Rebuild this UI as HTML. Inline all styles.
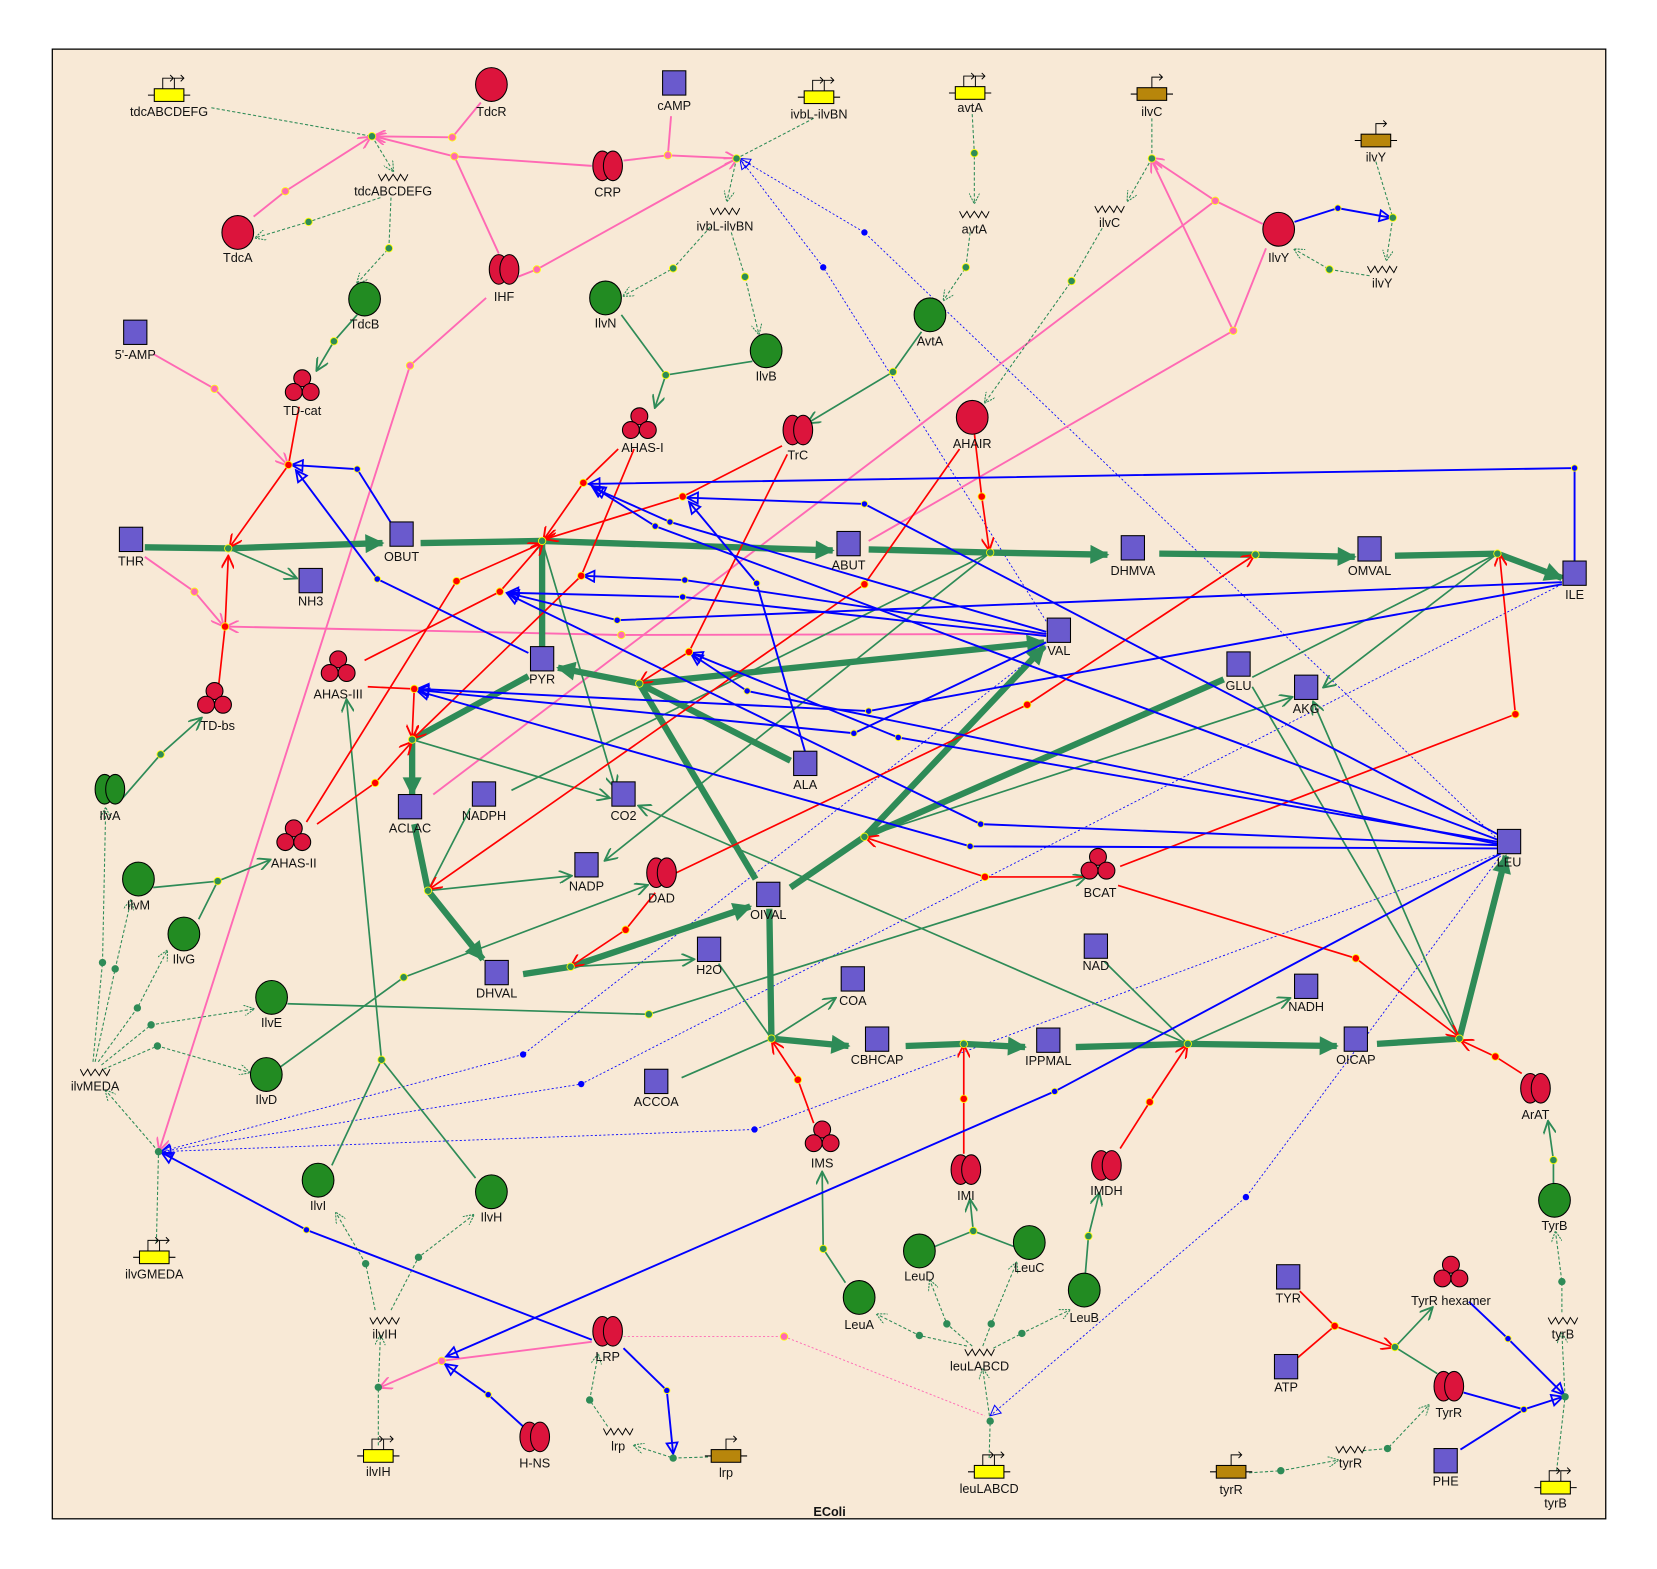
<!DOCTYPE html>
<html><head><meta charset="utf-8"><style>
html,body{margin:0;padding:0;background:#fff;}
svg{display:block}
text{font-family:"Liberation Sans",Arial,sans-serif;font-size:12px;fill:#111;text-anchor:middle}
.sq{fill:#6a5acd;stroke:#000;stroke-width:1}
.gc{fill:#228b22;stroke:#000;stroke-width:1}
.rc{fill:#dc143c;stroke:#000;stroke-width:1}
.F{stroke:#2e8b57;stroke-width:6;fill:none}
.g{stroke:#2e8b57;stroke-width:1.6;fill:none}
.gd{stroke:#2e8b57;stroke-width:1;stroke-dasharray:3,2;fill:none}
.r{stroke:#ff0000;stroke-width:1.6;fill:none}
.b{stroke:#0000ff;stroke-width:1.8;fill:none}
.bd{stroke:#0000ff;stroke-width:0.8;stroke-dasharray:2,2;fill:none}
.p{stroke:#ff69b4;stroke-width:1.8;fill:none}
.pd{stroke:#ff69b4;stroke-width:0.9;stroke-dasharray:2,2;fill:none}
</style></head><body>
<svg width="1657" height="1569" viewBox="0 0 1568 1485" preserveAspectRatio="none" xmlns="http://www.w3.org/2000/svg">
<defs>
<marker id="mF" viewBox="0 0 10 10" refX="9" refY="5" markerUnits="userSpaceOnUse" markerWidth="20" markerHeight="18" orient="auto"><path d="M0,0 L10,5 L0,10 z" fill="#2e8b57"/></marker>
<marker id="mg" viewBox="0 0 10 10" refX="9" refY="5" markerUnits="userSpaceOnUse" markerWidth="14" markerHeight="12" orient="auto"><path d="M0,0 L10,5 L0,10" fill="none" stroke="#2e8b57" stroke-width="1.5"/></marker>
<marker id="mgd" viewBox="0 0 10 10" refX="9" refY="5" markerUnits="userSpaceOnUse" markerWidth="12" markerHeight="10" orient="auto"><path d="M0,0 L10,5 L0,10" fill="none" stroke="#2e8b57" stroke-width="1" stroke-dasharray="2,1"/></marker>
<marker id="mr" viewBox="0 0 10 10" refX="9" refY="5" markerUnits="userSpaceOnUse" markerWidth="14" markerHeight="12" orient="auto"><path d="M0,0 L10,5 L0,10" fill="none" stroke="#ff0000" stroke-width="1.5"/></marker>
<marker id="mp" viewBox="0 0 10 10" refX="9" refY="5" markerUnits="userSpaceOnUse" markerWidth="14" markerHeight="12" orient="auto"><path d="M0,0 L10,5 L0,10" fill="none" stroke="#ff69b4" stroke-width="1.5"/></marker>
<marker id="mb" viewBox="0 0 10 10" refX="9" refY="5" markerUnits="userSpaceOnUse" markerWidth="16" markerHeight="13" orient="auto"><path d="M1,1 L9,5 L1,9 z" fill="none" stroke="#0000ff" stroke-width="1.3"/></marker>
<marker id="mbd" viewBox="0 0 10 10" refX="9" refY="5" markerUnits="userSpaceOnUse" markerWidth="14" markerHeight="12" orient="auto"><path d="M1,1 L9,5 L1,9 z" fill="none" stroke="#0000ff" stroke-width="0.8"/></marker>
<g id="dimR"><ellipse cx="-5" cy="0" rx="9" ry="14" class="rc"/><ellipse cx="5" cy="0" rx="9" ry="14" class="rc"/></g>
<g id="dimG"><ellipse cx="-5" cy="0" rx="9" ry="14" class="gc"/><ellipse cx="5" cy="0" rx="9" ry="14" class="gc"/></g>
<g id="tri"><circle cx="0" cy="-9" r="8" class="rc"/><circle cx="-8" cy="4" r="8" class="rc"/><circle cx="8" cy="4" r="8" class="rc"/></g>
<g id="mrna"><path d="M-14,-3 L-11,3 L-7,-3 L-4,3 L0,-3 L4,3 L7,-3 L11,3 L14,-3" fill="none" stroke="#000" stroke-width="0.9"/></g>
<g id="geneY"><line x1="-20" y1="0" x2="20" y2="0" stroke="#000"/><rect x="-14" y="-6" width="28" height="12" fill="#ffff00" stroke="#000"/><path d="M-6,-6 V-16 H4 M1,-19 L4,-16 L1,-13 M5,-6 V-16 H14 M11,-19 L14,-16 L11,-13" fill="none" stroke="#000" stroke-width="0.9"/></g>
<g id="geneB"><line x1="-20" y1="0" x2="20" y2="0" stroke="#000"/><rect x="-14" y="-6" width="28" height="12" fill="#b8860b" stroke="#000"/><path d="M0,-6 V-16 H10 M7,-19 L10,-16 L7,-13" fill="none" stroke="#000" stroke-width="0.9"/></g>
</defs>
<rect x="0" y="0" width="1568" height="1485" fill="#fff"/>
<rect x="49.5" y="46.5" width="1470" height="1391" fill="#f8e9d6" stroke="#000" stroke-width="1.2"/>

<g class="bd">
<polyline points="1418,795 818,220 700,150" marker-end="url(#mbd)"/>
<polyline points="990,588 779,253 700,150" marker-end="url(#mbd)"/>
<polyline points="990,612 495,998 152,1090" marker-end="url(#mbd)"/>
<polyline points="1478,553 550,1026 152,1090" marker-end="url(#mbd)"/>
<polyline points="1418,808 714,1069 152,1090" marker-end="url(#mbd)"/>
<polyline points="1420,810 1179,1133 937,1340" marker-end="url(#mbd)"/>
</g>
<polyline class="pd" points="590,1265 742,1265 932,1340"/>

<g class="p">
<polyline points="455,97 428,130 354,129" marker-end="url(#mp)"/>
<polyline points="560,157 430,148 354,129" marker-end="url(#mp)"/>
<line x1="472" y1="240" x2="430" y2="148"/>
<polyline points="240,205 270,181 350,130" marker-end="url(#mp)"/>
<polyline points="145,335 203,368 272,440" marker-end="url(#mp)"/>
<polyline points="137,527 184,560 211,592" marker-end="url(#mp)"/>
<polyline points="990,600 588,601 215,593" marker-end="url(#mp)"/>
<polyline points="635,110 632,147 697,150" marker-end="url(#mp)"/>
<line x1="590" y1="152" x2="632" y2="147"/>
<polyline points="490,262 508,255 697,150" marker-end="url(#mp)"/>
<polyline points="460,282 388,346 151,1088" marker-end="url(#mp)"/>
<polyline points="1195,212 1150,190 1090,150" marker-end="url(#mp)"/>
<polyline points="1198,235 1167,313 1090,152" marker-end="url(#mp)"/>
<line x1="1150" y1="190" x2="410" y2="752"/>
<line x1="1167" y1="313" x2="822" y2="512"/>
<polyline points="560,1270 418,1288 360,1313" marker-end="url(#mp)"/>
</g>

<g class="gd">
<line x1="200" y1="102" x2="352" y2="129"/>
<polyline points="352,129 372,162" marker-end="url(#mgd)"/>
<polyline points="370,187 368,235 338,268" marker-end="url(#mgd)"/>
<polyline points="360,187 292,210 242,225" marker-end="url(#mgd)"/>
<line x1="770" y1="112" x2="697" y2="150"/>
<polyline points="697,150 688,190" marker-end="url(#mgd)"/>
<polyline points="672,215 637,254 590,280" marker-end="url(#mgd)"/>
<polyline points="692,220 705,262 718,316" marker-end="url(#mgd)"/>
<polyline points="920,108 922,145 922,192" marker-end="url(#mgd)"/>
<polyline points="918,220 914,253 893,284" marker-end="url(#mgd)"/>
<line x1="1090" y1="112" x2="1090" y2="150"/>
<polyline points="1090,150 1067,190" marker-end="url(#mgd)"/>
<polyline points="1043,216 1014,266 932,381" marker-end="url(#mgd)"/>
<line x1="1302" y1="153" x2="1318" y2="206"/>
<polyline points="1318,206 1312,246" marker-end="url(#mgd)"/>
<polyline points="1296,261 1258,255 1225,236" marker-end="url(#mgd)"/>
<line x1="148" y1="1176" x2="150" y2="1090"/>
<polyline points="150,1090 100,1032" marker-end="url(#mgd)"/>
<polyline points="88,1005 97,911 100,765" marker-end="url(#mgd)"/>
<polyline points="90,1005 109,917 124,852" marker-end="url(#mgd)"/>
<polyline points="93,1005 130,954 158,900" marker-end="url(#mgd)"/>
<polyline points="96,1008 143,970 240,955" marker-end="url(#mgd)"/>
<polyline points="98,1012 149,990 236,1015" marker-end="url(#mgd)"/>
<polyline points="358,1368 358,1313 360,1264" marker-end="url(#mgd)"/>
<polyline points="355,1240 346,1196 318,1148" marker-end="url(#mgd)"/>
<polyline points="370,1240 396,1190 448,1150" marker-end="url(#mgd)"/>
<polyline points="670,1379 637,1380 600,1368" marker-end="url(#mgd)"/>
<polyline points="575,1350 558,1325 566,1282" marker-end="url(#mgd)"/>
<polyline points="936,1380 937,1345 930,1296" marker-end="url(#mgd)"/>
<polyline points="915,1274 870,1264 830,1244" marker-end="url(#mgd)"/>
<polyline points="920,1274 896,1253 880,1212" marker-end="url(#mgd)"/>
<polyline points="930,1274 938,1253 962,1195" marker-end="url(#mgd)"/>
<polyline points="940,1276 967,1262 1012,1240" marker-end="url(#mgd)"/>
<polyline points="1182,1394 1212,1392 1266,1382" marker-end="url(#mgd)"/>
<polyline points="1290,1373 1313,1371 1352,1330" marker-end="url(#mgd)"/>
<line x1="1473" y1="1392" x2="1481" y2="1322"/>
<polyline points="1481,1322 1478,1262" marker-end="url(#mgd)"/>
<polyline points="1478,1242 1478,1213 1472,1166" marker-end="url(#mgd)"/>
</g>

<g class="g">
<polyline points="338,298 316,323 300,350" marker-end="url(#mg)"/>
<line x1="588" y1="298" x2="630" y2="355"/><line x1="712" y1="342" x2="630" y2="355"/>
<polyline points="630,355 620,385" marker-end="url(#mg)"/>
<polyline points="872,314 845,352 765,400" marker-end="url(#mg)"/>
<polyline points="112,760 152,714 190,680" marker-end="url(#mg)"/>
<polyline points="145,840 206,834 255,814" marker-end="url(#mg)"/>
<line x1="188" y1="870" x2="206" y2="834"/>
<line x1="314" y1="1103" x2="361" y2="1003"/><line x1="450" y1="1115" x2="361" y2="1003"/>
<polyline points="361,1003 328,663" marker-end="url(#mg)"/>
<polyline points="272,950 614,960 1027,830" marker-end="url(#mg)"/>
<polyline points="265,1010 382,925 612,838" marker-end="url(#mg)"/>
<polyline points="800,1214 779,1182 778,1110" marker-end="url(#mg)"/>
<line x1="884" y1="1180" x2="921" y2="1165"/><line x1="960" y1="1180" x2="921" y2="1165"/>
<polyline points="921,1165 918,1136" marker-end="url(#mg)"/>
<polyline points="1027,1206 1030,1170 1040,1130" marker-end="url(#mg)"/>
<polyline points="1470,1120 1470,1098 1465,1062" marker-end="url(#mg)"/>
<polyline points="1320,1275 1355,1238" marker-end="url(#mg)"/>
<line x1="1320" y1="1275" x2="1360" y2="1300"/>
<polyline points="513,512 582,745" marker-end="url(#mg)"/>
<line x1="937" y1="523" x2="484" y2="748"/>
<polyline points="937,523 573,814" marker-end="url(#mg)"/>
<line x1="1417" y1="524" x2="1185" y2="641"/>
<polyline points="1417,524 1253,650" marker-end="url(#mg)"/>
<polyline points="818,792 1222,660" marker-end="url(#mg)"/>
<line x1="1185" y1="650" x2="1381" y2="983"/>
<polyline points="1381,983 1243,665" marker-end="url(#mg)"/>
<polyline points="1124,988 605,763" marker-end="url(#mg)"/>
<polyline points="390,700 576,755" marker-end="url(#mg)"/>
<line x1="445" y1="765" x2="405" y2="843"/>
<polyline points="405,843 540,829" marker-end="url(#mg)"/>
<polyline points="540,915 656,908" marker-end="url(#mg)"/>
<line x1="680" y1="912" x2="730" y2="983"/>
<line x1="645" y1="1020" x2="730" y2="983"/>
<polyline points="730,983 790,945" marker-end="url(#mg)"/>
<line x1="1045" y1="910" x2="1124" y2="988"/>
<polyline points="1124,988 1220,945" marker-end="url(#mg)"/>
</g>
<polyline points="216,519 280,547" class="g" marker-end="url(#mg)"/>

<g class="F">
<polyline points="137,518 216,519 362,514" marker-end="url(#mF)"/>
<polyline points="398,514 513,512 788,521" marker-end="url(#mF)"/>
<polyline points="822,520 937,523 1048,525" marker-end="url(#mF)"/>
<polyline points="1097,524 1188,525 1282,527" marker-end="url(#mF)"/>
<polyline points="1320,526 1417,524 1478,547" marker-end="url(#mF)"/>
<line x1="513" y1="512" x2="513" y2="612"/>
<polyline points="605,647 528,632" marker-end="url(#mF)"/>
<polyline points="605,647 988,608" marker-end="url(#mF)"/>
<line x1="748" y1="720" x2="605" y2="647"/>
<line x1="715" y1="832" x2="605" y2="647"/>
<polyline points="500,640 390,700 390,752" marker-end="url(#mF)"/>
<polyline points="392,780 405,843 457,908" marker-end="url(#mF)"/>
<polyline points="495,922 540,915 710,858" marker-end="url(#mF)"/>
<polyline points="728,860 730,983 803,990" marker-end="url(#mF)"/>
<polyline points="857,990 912,988 970,991" marker-end="url(#mF)"/>
<polyline points="1018,991 1124,988 1265,990" marker-end="url(#mF)"/>
<polyline points="1303,988 1381,983 1425,810" marker-end="url(#mF)"/>
<polyline points="748,840 818,792 988,612" marker-end="url(#mF)"/>
<line x1="1158" y1="643" x2="818" y2="792"/>
</g>

<g class="r">
<polyline points="283,385 273,440 218,517" marker-end="url(#mr)"/>
<polyline points="207,648 213,593 216,527" marker-end="url(#mr)"/>
<polyline points="585,425 552,457 515,510" marker-end="url(#mr)"/>
<polyline points="600,425 550,545 392,698" marker-end="url(#mr)"/>
<polyline points="740,422 646,470 517,510" marker-end="url(#mr)"/>
<polyline points="745,430 652,617 606,646" marker-end="url(#mr)"/>
<polyline points="345,625 473,560 513,514" marker-end="url(#mr)"/>
<polyline points="348,650 392,652 390,697" marker-end="url(#mr)"/>
<polyline points="290,778 432,550 511,515" marker-end="url(#mr)"/>
<polyline points="300,780 355,741 389,703" marker-end="url(#mr)"/>
<polyline points="922,410 929,470 936,520" marker-end="url(#mr)"/>
<polyline points="908,425 818,553 407,841" marker-end="url(#mr)"/>
<polyline points="640,826 972,667 1186,526" marker-end="url(#mr)"/>
<polyline points="620,845 592,880 541,914" marker-end="url(#mr)"/>
<polyline points="1025,830 932,830 820,793" marker-end="url(#mr)"/>
<polyline points="1060,820 1434,676 1419,525" marker-end="url(#mr)"/>
<polyline points="1058,838 1283,907 1380,981" marker-end="url(#mr)"/>
<polyline points="770,1063 755,1022 731,986" marker-end="url(#mr)"/>
<polyline points="912,1092 912,1040 912,990" marker-end="url(#mr)"/>
<polyline points="1060,1087 1088,1043 1123,990" marker-end="url(#mr)"/>
<polyline points="1440,1016 1415,1000 1383,985" marker-end="url(#mr)"/>
<polyline points="1230,1222 1263,1255 1318,1275" marker-end="url(#mr)"/>
<line x1="1228" y1="1285" x2="1263" y2="1255"/>
</g>

<g class="b">
<polyline points="372,498 338,444 276,440" marker-end="url(#mb)"/>
<polyline points="500,618 357,548 280,445" marker-end="url(#mb)"/>
<polyline points="1490,532 1490,443 557,458" marker-end="url(#mb)"/>
<polyline points="1418,795 620,498 560,460" marker-end="url(#mb)"/>
<polyline points="990,598 634,494 562,462" marker-end="url(#mb)"/>
<polyline points="1418,790 818,477 650,471" marker-end="url(#mb)"/>
<polyline points="762,712 716,552 652,475" marker-end="url(#mb)"/>
<polyline points="990,600 648,549 552,545" marker-end="url(#mb)"/>
<polyline points="1478,551 584,587 480,561" marker-end="url(#mb)"/>
<polyline points="990,602 646,565 480,561" marker-end="url(#mb)"/>
<polyline points="1478,553 822,673 395,652" marker-end="url(#mb)"/>
<polyline points="990,608 808,694 395,653" marker-end="url(#mb)"/>
<polyline points="1418,797 850,698 654,618" marker-end="url(#mb)"/>
<polyline points="1418,799 707,654 654,619" marker-end="url(#mb)"/>
<polyline points="1418,800 928,780 480,562" marker-end="url(#mb)"/>
<polyline points="1418,803 918,801 395,654" marker-end="url(#mb)"/>
<polyline points="1420,808 998,1033 422,1284" marker-end="url(#mb)"/>
<polyline points="590,1276 631,1316 637,1376" marker-end="url(#mb)"/>
<polyline points="495,1350 462,1320 421,1291" marker-end="url(#mb)"/>
<polyline points="560,1268 290,1164 153,1091" marker-end="url(#mb)"/>
<polyline points="1225,210 1266,197 1316,206" marker-end="url(#mb)"/>
<polyline points="1390,1232 1427,1267 1480,1320" marker-end="url(#mb)"/>
<polyline points="1385,1318 1442,1334 1479,1322" marker-end="url(#mb)"/>
<line x1="1382" y1="1372" x2="1442" y2="1334"/>
</g>

<g stroke="#ffff00" stroke-width="0.8">
<g fill="#2e8b57">
<circle cx="352" cy="129" r="3.5"/><circle cx="697" cy="150" r="3.5"/><circle cx="1090" cy="150" r="3.5"/><circle cx="1318" cy="206" r="3.5"/>
<circle cx="292" cy="210" r="3.5"/><circle cx="368" cy="235" r="3.5"/><circle cx="637" cy="254" r="3.5"/><circle cx="705" cy="262" r="3.5"/>
<circle cx="922" cy="145" r="3.5"/><circle cx="914" cy="253" r="3.5"/><circle cx="1014" cy="266" r="3.5"/><circle cx="1258" cy="255" r="3.5"/>
<circle cx="316" cy="323" r="3.5"/><circle cx="630" cy="355" r="3.5"/><circle cx="845" cy="352" r="3.5"/>
<circle cx="216" cy="519" r="3.5"/><circle cx="513" cy="512" r="3.5"/><circle cx="937" cy="523" r="3.5"/><circle cx="1188" cy="525" r="3.5"/><circle cx="1417" cy="524" r="3.5"/>
<circle cx="605" cy="647" r="3.5"/><circle cx="390" cy="700" r="3.5"/><circle cx="405" cy="843" r="3.5"/><circle cx="540" cy="915" r="3.5"/><circle cx="818" cy="792" r="3.5"/>
<circle cx="730" cy="983" r="3.5"/><circle cx="912" cy="988" r="3.5"/><circle cx="1124" cy="988" r="3.5"/><circle cx="1381" cy="983" r="3.5"/>
<circle cx="152" cy="714" r="3.5"/><circle cx="206" cy="834" r="3.5"/><circle cx="361" cy="1003" r="3.5"/><circle cx="614" cy="960" r="3.5"/><circle cx="382" cy="925" r="3.5"/>
<circle cx="779" cy="1182" r="3.5"/><circle cx="921" cy="1165" r="3.5"/><circle cx="1030" cy="1170" r="3.5"/><circle cx="1470" cy="1098" r="3.5"/><circle cx="1320" cy="1275" r="3.5"/>
<circle cx="97" cy="911" r="3.5" stroke="none"/><circle cx="109" cy="917" r="3.5" stroke="none"/><circle cx="130" cy="954" r="3.5" stroke="none"/><circle cx="143" cy="970" r="3.5" stroke="none"/><circle cx="149" cy="990" r="3.5" stroke="none"/><circle cx="150" cy="1090" r="3.5" stroke="none"/>
<circle cx="358" cy="1313" r="3.5" stroke="none"/><circle cx="346" cy="1196" r="3.5" stroke="none"/><circle cx="396" cy="1190" r="3.5" stroke="none"/><circle cx="637" cy="1380" r="3.5" stroke="none"/><circle cx="558" cy="1325" r="3.5" stroke="none"/>
<circle cx="937" cy="1345" r="3.5" stroke="none"/><circle cx="870" cy="1264" r="3.5" stroke="none"/><circle cx="896" cy="1253" r="3.5" stroke="none"/><circle cx="938" cy="1253" r="3.5" stroke="none"/><circle cx="967" cy="1262" r="3.5" stroke="none"/>
<circle cx="1212" cy="1392" r="3.5" stroke="none"/><circle cx="1313" cy="1371" r="3.5" stroke="none"/><circle cx="1481" cy="1322" r="3.5" stroke="none"/><circle cx="1478" cy="1213" r="3.5" stroke="none"/>
</g>
<g fill="#ff0000">
<circle cx="273" cy="440" r="3.5"/><circle cx="213" cy="593" r="3.5"/><circle cx="552" cy="457" r="3.5"/><circle cx="550" cy="545" r="3.5"/><circle cx="646" cy="470" r="3.5"/><circle cx="652" cy="617" r="3.5"/>
<circle cx="473" cy="560" r="3.5"/><circle cx="392" cy="652" r="3.5"/><circle cx="432" cy="550" r="3.5"/><circle cx="355" cy="741" r="3.5"/><circle cx="929" cy="470" r="3.5"/><circle cx="818" cy="553" r="3.5"/>
<circle cx="972" cy="667" r="3.5"/><circle cx="592" cy="880" r="3.5"/><circle cx="932" cy="830" r="3.5"/><circle cx="1434" cy="676" r="3.5"/><circle cx="1283" cy="907" r="3.5"/>
<circle cx="755" cy="1022" r="3.5"/><circle cx="912" cy="1040" r="3.5"/><circle cx="1088" cy="1043" r="3.5"/><circle cx="1415" cy="1000" r="3.5"/><circle cx="1263" cy="1255" r="3.5"/>
</g>
<g fill="#ff69b4">
<circle cx="428" cy="130" r="3.5"/><circle cx="430" cy="148" r="3.5"/><circle cx="270" cy="181" r="3.5"/><circle cx="203" cy="368" r="3.5"/><circle cx="184" cy="560" r="3.5"/><circle cx="588" cy="601" r="3.5"/>
<circle cx="632" cy="147" r="3.5"/><circle cx="508" cy="255" r="3.5"/><circle cx="388" cy="346" r="3.5"/><circle cx="1150" cy="190" r="3.5"/><circle cx="1167" cy="313" r="3.5"/><circle cx="418" cy="1288" r="3.5"/><circle cx="742" cy="1265" r="3.5"/>
</g>
<g fill="#0000ff">
<circle cx="338" cy="444" r="3"/><circle cx="357" cy="548" r="3"/><circle cx="1490" cy="443" r="3"/><circle cx="620" cy="498" r="3"/><circle cx="634" cy="494" r="3"/><circle cx="818" cy="477" r="3"/><circle cx="716" cy="552" r="3"/>
<circle cx="648" cy="549" r="3"/><circle cx="584" cy="587" r="3"/><circle cx="646" cy="565" r="3"/><circle cx="822" cy="673" r="3"/><circle cx="808" cy="694" r="3"/><circle cx="850" cy="698" r="3"/><circle cx="707" cy="654" r="3"/>
<circle cx="928" cy="780" r="3"/><circle cx="918" cy="801" r="3"/><circle cx="998" cy="1033" r="3"/><circle cx="631" cy="1316" r="3"/><circle cx="462" cy="1320" r="3"/><circle cx="290" cy="1164" r="3"/>
<circle cx="1266" cy="197" r="3"/><circle cx="1427" cy="1267" r="3"/><circle cx="1442" cy="1334" r="3"/>
<circle cx="818" cy="220" r="3" stroke="none"/><circle cx="779" cy="253" r="3" stroke="none"/><circle cx="495" cy="998" r="3" stroke="none"/><circle cx="550" cy="1026" r="3" stroke="none"/><circle cx="714" cy="1069" r="3" stroke="none"/><circle cx="1179" cy="1133" r="3" stroke="none"/>
</g>
</g>

<use href="#geneY" x="160" y="90"/><text x="160" y="110">tdcABCDEFG</text>
<use href="#geneY" x="775" y="92"/><text x="775" y="112">ivbL-ilvBN</text>
<use href="#geneY" x="918" y="88"/><text x="918" y="106">avtA</text>
<use href="#geneB" x="1090" y="89"/><text x="1090" y="110">ilvC</text>
<use href="#geneB" x="1302" y="133"/><text x="1302" y="153">ilvY</text>
<use href="#geneY" x="146" y="1190"/><text x="146" y="1210">ilvGMEDA</text>
<use href="#geneY" x="358" y="1378"/><text x="358" y="1397">ilvIH</text>
<use href="#geneB" x="687" y="1378"/><text x="687" y="1398">lrp</text>
<use href="#geneY" x="936" y="1393"/><text x="936" y="1413">leuLABCD</text>
<use href="#geneB" x="1165" y="1393"/><text x="1165" y="1414">tyrR</text>
<use href="#geneY" x="1472" y="1408"/><text x="1472" y="1427">tyrB</text>
<use href="#mrna" x="372" y="168"/><text x="372" y="185">tdcABCDEFG</text>
<use href="#mrna" x="686" y="200"/><text x="686" y="218">ivbL-ilvBN</text>
<use href="#mrna" x="922" y="203"/><text x="922" y="221">avtA</text>
<use href="#mrna" x="1050" y="198"/><text x="1050" y="215">ilvC</text>
<use href="#mrna" x="1308" y="255"/><text x="1308" y="272">ilvY</text>
<use href="#mrna" x="90" y="1015"/><text x="90" y="1032">ilvMEDA</text>
<use href="#mrna" x="364" y="1250"/><text x="364" y="1267">ilvIH</text>
<use href="#mrna" x="1479" y="1250"/><text x="1479" y="1267">tyrB</text>
<use href="#mrna" x="927" y="1280"/><text x="927" y="1297">leuLABCD</text>
<use href="#mrna" x="585" y="1355"/><text x="585" y="1373">lrp</text>
<use href="#mrna" x="1278" y="1372"/><text x="1278" y="1389">tyrR</text>

<ellipse cx="465" cy="80" rx="15" ry="16" class="rc"/><text x="465" y="110">TdcR</text>
<ellipse cx="225" cy="220" rx="15" ry="16" class="rc"/><text x="225" y="248">TdcA</text>
<ellipse cx="1210" cy="217" rx="15" ry="16" class="rc"/><text x="1210" y="248">IlvY</text>
<ellipse cx="920" cy="395" rx="15" ry="16" class="rc"/><text x="920" y="424">AHAIR</text>
<ellipse cx="345" cy="283" rx="15" ry="16" class="gc"/><text x="345" y="311">TdcB</text>
<ellipse cx="573" cy="282" rx="15" ry="16" class="gc"/><text x="573" y="310">IlvN</text>
<ellipse cx="725" cy="332" rx="15" ry="16" class="gc"/><text x="725" y="360">IlvB</text>
<ellipse cx="880" cy="298" rx="15" ry="16" class="gc"/><text x="880" y="327">AvtA</text>
<ellipse cx="131" cy="832" rx="15" ry="16" class="gc"/><text x="131" y="861">IlvM</text>
<ellipse cx="174" cy="884" rx="15" ry="16" class="gc"/><text x="174" y="912">IlvG</text>
<ellipse cx="257" cy="944" rx="15" ry="16" class="gc"/><text x="257" y="972">IlvE</text>
<ellipse cx="252" cy="1017" rx="15" ry="16" class="gc"/><text x="252" y="1045">IlvD</text>
<ellipse cx="301" cy="1117" rx="15" ry="16" class="gc"/><text x="301" y="1145">IlvI</text>
<ellipse cx="465" cy="1128" rx="15" ry="16" class="gc"/><text x="465" y="1156">IlvH</text>
<ellipse cx="1471" cy="1136" rx="15" ry="16" class="gc"/><text x="1471" y="1164">TyrB</text>
<ellipse cx="870" cy="1184" rx="15" ry="16" class="gc"/><text x="870" y="1212">LeuD</text>
<ellipse cx="974" cy="1176" rx="15" ry="16" class="gc"/><text x="974" y="1204">LeuC</text>
<ellipse cx="813" cy="1228" rx="15" ry="16" class="gc"/><text x="813" y="1258">LeuA</text>
<ellipse cx="1026" cy="1221" rx="15" ry="16" class="gc"/><text x="1026" y="1251">LeuB</text>
<use href="#dimR" x="575" y="157"/><text x="575" y="186">CRP</text>
<use href="#dimR" x="477" y="255"/><text x="477" y="285">IHF</text>
<use href="#dimR" x="755" y="407"/><text x="755" y="435">TrC</text>
<use href="#dimG" x="104" y="747"/><text x="104" y="776">IlvA</text>
<use href="#dimR" x="626" y="826"/><text x="626" y="854">DAD</text>
<use href="#dimR" x="1453" y="1030"/><text x="1453" y="1059">ArAT</text>
<use href="#dimR" x="914" y="1107"/><text x="914" y="1136">IMI</text>
<use href="#dimR" x="1047" y="1103"/><text x="1047" y="1131">IMDH</text>
<use href="#dimR" x="575" y="1260"/><text x="575" y="1288">LRP</text>
<use href="#dimR" x="1371" y="1312"/><text x="1371" y="1341">TyrR</text>
<use href="#dimR" x="506" y="1360"/><text x="506" y="1389">H-NS</text>
<use href="#tri" x="286" y="367"/><text x="286" y="393">TD-cat</text>
<use href="#tri" x="605" y="403"/><text x="608" y="428">AHAS-I</text>
<use href="#tri" x="320" y="633"/><text x="320" y="661">AHAS-III</text>
<use href="#tri" x="203" y="663"/><text x="206" y="691">TD-bs</text>
<use href="#tri" x="278" y="793"/><text x="278" y="821">AHAS-II</text>
<use href="#tri" x="1039" y="820"/><text x="1041" y="849">BCAT</text>
<use href="#tri" x="778" y="1078"/><text x="778" y="1105">IMS</text>
<use href="#tri" x="1373" y="1206"/><text x="1373" y="1235">TyrR hexamer</text>

<g>
<rect x="627" y="67" width="22" height="23" class="sq"/><text x="638" y="104">cAMP</text>
<rect x="117" y="303" width="22" height="23" class="sq"/><text x="128" y="340">5'-AMP</text>
<rect x="113" y="499" width="22" height="23" class="sq"/><text x="124" y="535">THR</text>
<rect x="369" y="494" width="22" height="23" class="sq"/><text x="380" y="531">OBUT</text>
<rect x="283" y="538" width="22" height="23" class="sq"/><text x="294" y="573">NH3</text>
<rect x="792" y="503" width="22" height="23" class="sq"/><text x="803" y="539">ABUT</text>
<rect x="1061" y="507" width="22" height="23" class="sq"/><text x="1072" y="544">DHMVA</text>
<rect x="1285" y="508" width="22" height="23" class="sq"/><text x="1296" y="544">OMVAL</text>
<rect x="1479" y="531" width="22" height="23" class="sq"/><text x="1490" y="567">ILE</text>
<rect x="991" y="585" width="22" height="23" class="sq"/><text x="1002" y="620">VAL</text>
<rect x="502" y="612" width="22" height="23" class="sq"/><text x="513" y="647">PYR</text>
<rect x="1161" y="617" width="22" height="23" class="sq"/><text x="1172" y="653">GLU</text>
<rect x="1225" y="639" width="22" height="23" class="sq"/><text x="1236" y="675">AKG</text>
<rect x="751" y="711" width="22" height="23" class="sq"/><text x="762" y="747">ALA</text>
<rect x="447" y="740" width="22" height="23" class="sq"/><text x="458" y="776">NADPH</text>
<rect x="579" y="740" width="22" height="23" class="sq"/><text x="590" y="776">CO2</text>
<rect x="377" y="752" width="22" height="23" class="sq"/><text x="388" y="788">ACLAC</text>
<rect x="544" y="807" width="22" height="23" class="sq"/><text x="555" y="843">NADP</text>
<rect x="1417" y="785" width="22" height="23" class="sq"/><text x="1428" y="820">LEU</text>
<rect x="716" y="835" width="22" height="23" class="sq"/><text x="727" y="870">OIVAL</text>
<rect x="660" y="887" width="22" height="23" class="sq"/><text x="671" y="922">H2O</text>
<rect x="1026" y="884" width="22" height="23" class="sq"/><text x="1037" y="918">NAD</text>
<rect x="459" y="909" width="22" height="23" class="sq"/><text x="470" y="944">DHVAL</text>
<rect x="796" y="915" width="22" height="23" class="sq"/><text x="807" y="951">COA</text>
<rect x="1225" y="922" width="22" height="23" class="sq"/><text x="1236" y="957">NADH</text>
<rect x="819" y="972" width="22" height="23" class="sq"/><text x="830" y="1007">CBHCAP</text>
<rect x="981" y="973" width="22" height="23" class="sq"/><text x="992" y="1008">IPPMAL</text>
<rect x="1272" y="972" width="22" height="23" class="sq"/><text x="1283" y="1007">OICAP</text>
<rect x="610" y="1012" width="22" height="23" class="sq"/><text x="621" y="1047">ACCOA</text>
<rect x="1208" y="1197" width="22" height="23" class="sq"/><text x="1219" y="1233">TYR</text>
<rect x="1206" y="1282" width="22" height="23" class="sq"/><text x="1217" y="1317">ATP</text>
<rect x="1357" y="1371" width="22" height="23" class="sq"/><text x="1368" y="1406">PHE</text>
</g>
<text x="785" y="1435" style="font-weight:bold;font-size:12px">EColi</text>
</svg>
</body></html>
